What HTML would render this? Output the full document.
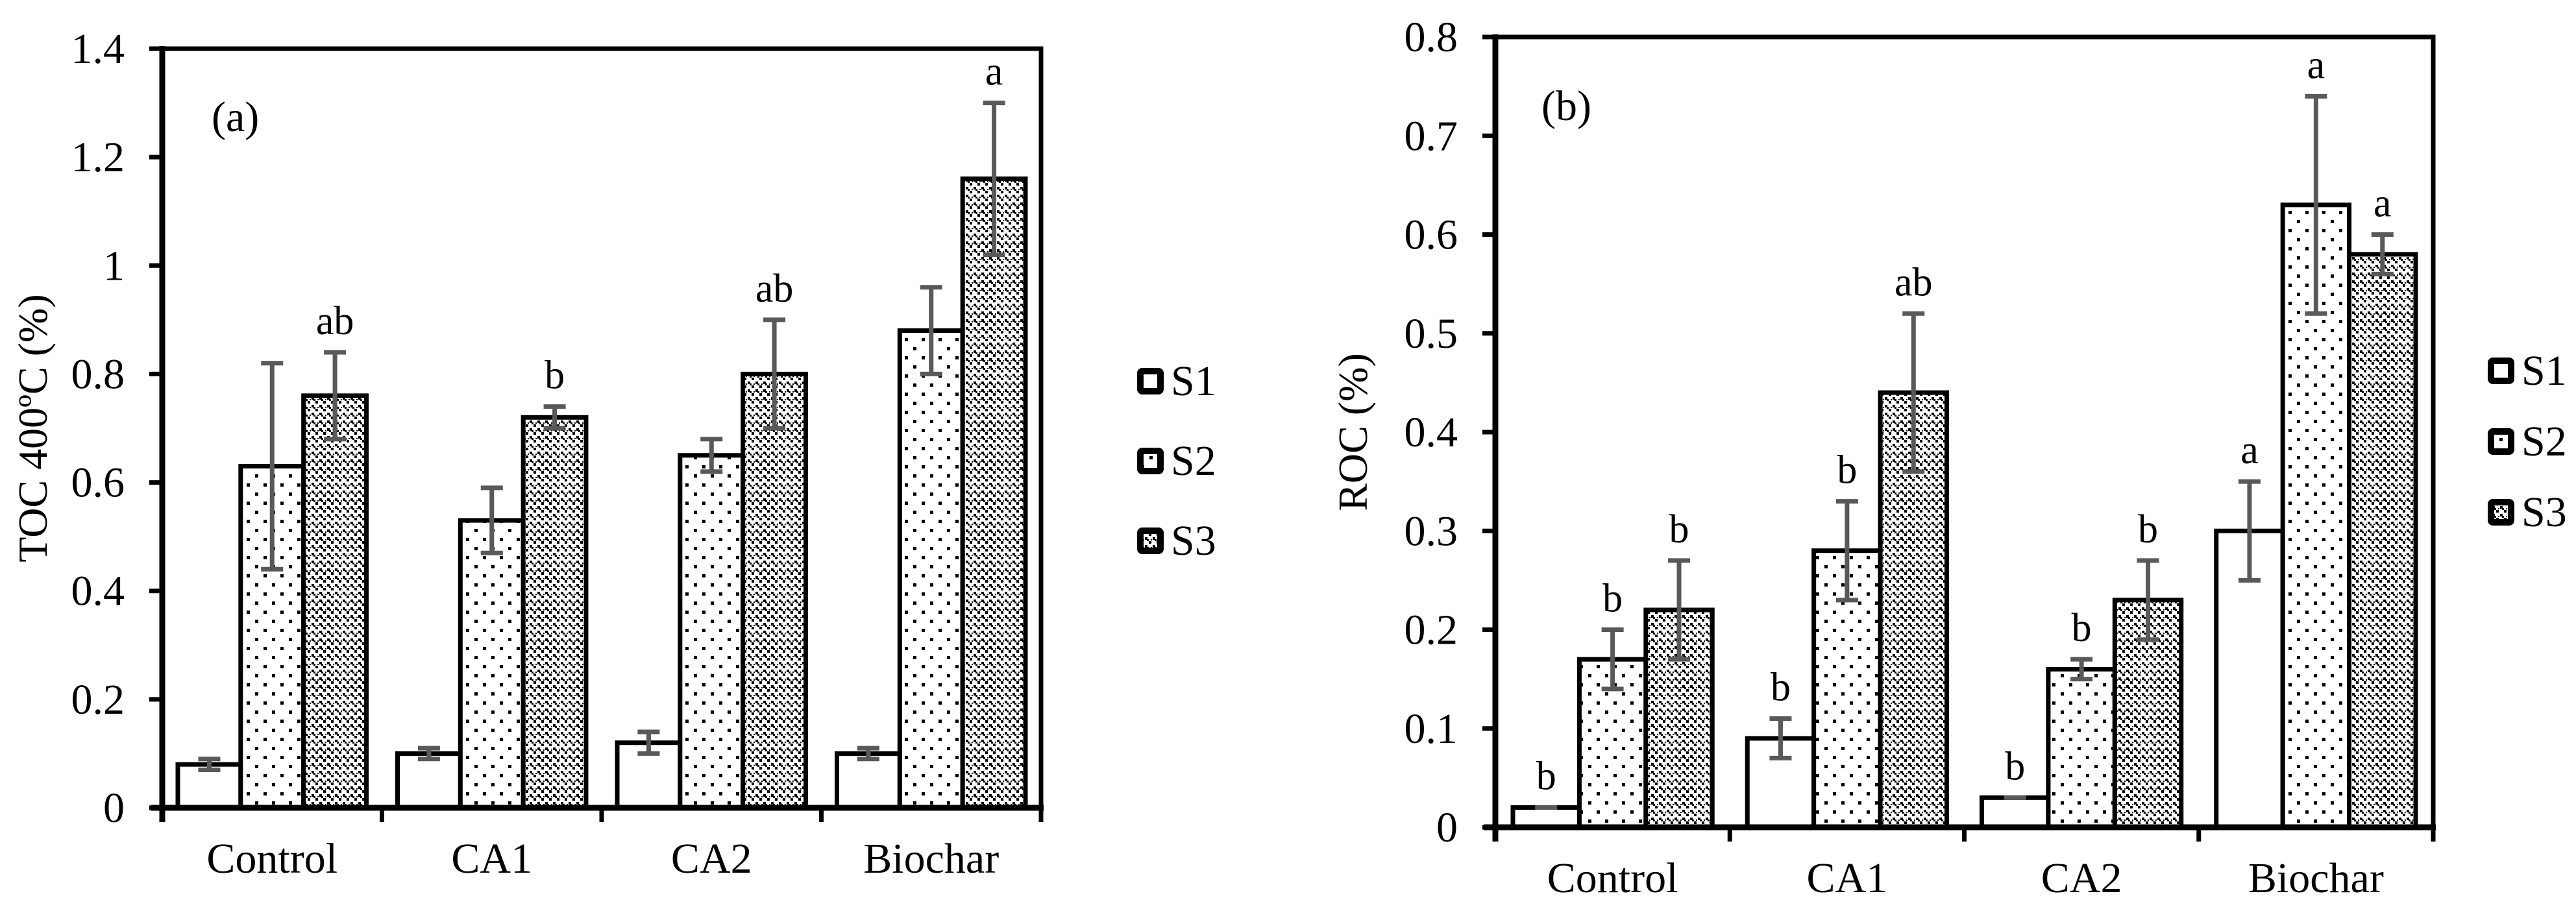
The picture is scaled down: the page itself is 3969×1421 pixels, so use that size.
<!DOCTYPE html>
<html><head><meta charset="utf-8"><style>
html,body{margin:0;padding:0;background:#fff;}
svg{display:block;font-family:"Liberation Serif","Times New Roman",serif;}
</style></head><body>
<svg id="fig" width="3969" height="1421" viewBox="0 0 3969 1421" xmlns="http://www.w3.org/2000/svg">
<defs>
<pattern id="pS2" width="26" height="28" patternUnits="userSpaceOnUse">
<rect width="26" height="28" fill="#fff"/>
<rect x="3" y="3" width="5" height="5" fill="#000"/>
<rect x="16" y="17" width="5" height="5" fill="#000"/>
</pattern>
<pattern id="pS3" width="12" height="12" patternUnits="userSpaceOnUse">
<rect width="12" height="12" fill="#fff"/>
<rect x="0" y="0" width="4" height="4" fill="#000"/>
<rect x="6" y="6" width="4" height="4" fill="#000"/>
<rect x="3" y="3" width="3" height="3" fill="#000"/>
<rect x="9" y="3" width="2" height="2" fill="#000"/>
</pattern>
</defs>
<g id="chartA"></g>
<g id="chartB"></g>
</svg>
<script>
const categories = ["Control","CA1","CA2","Biochar"];
const seriesNames = ["S1","S2","S3"];
const aS1 = [0.08,0.10,0.12,0.10];
const aS2 = [0.63,0.53,0.65,0.88];
const aS3 = [0.76,0.72,0.80,1.16];
const aE1 = [0.01,0.01,0.02,0.01];
const aE2 = [0.19,0.06,0.03,0.08];
const aE3 = [0.08,0.02,0.10,0.14];
const aL1 = ["","","",""];
const aL2 = ["","","",""];
const aL3 = ["ab","b","ab","a"];
const aTicks = ["0","0.2","0.4","0.6","0.8","1","1.2","1.4"];
const aTickVals = [0,0.2,0.4,0.6,0.8,1.0,1.2,1.4];
const bS1 = [0.02,0.09,0.03,0.30];
const bS2 = [0.17,0.28,0.16,0.63];
const bS3 = [0.22,0.44,0.23,0.58];
const bE1 = [0.0,0.02,0.0,0.05];
const bE2 = [0.03,0.05,0.01,0.11];
const bE3 = [0.05,0.08,0.04,0.02];
const bL1 = ["b","b","b","a"];
const bL2 = ["b","b","b","a"];
const bL3 = ["b","ab","b","a"];
const bTicks = ["0","0.1","0.2","0.3","0.4","0.5","0.6","0.7","0.8"];
const bTickVals = [0,0.1,0.2,0.3,0.4,0.5,0.6,0.7,0.8];

const NS="http://www.w3.org/2000/svg";
function mk(parent,tag,attrs,text){const e=document.createElementNS(NS,tag);for(const k in attrs)e.setAttribute(k,attrs[k]);if(text!==undefined)e.textContent=text;parent.appendChild(e);return e;}
const fills=["#fff","url(#pS2)","url(#pS3)"];

function draw(g,cfg){
  const {x0,x1,y0,yTop,ymax,vals,errs,lbls,ticks,tickVals,title,titleX,tag,tagX,tagY,legX,legY,legGap,barOff}=cfg;
  const ys=v=>y0-(v/ymax)*(y0-yTop);
  const cw=(x1-x0)/categories.length;
  const bw=(cw-2*barOff)/3;
  const xs=(c,s)=>x0+c*cw+barOff+s*bw;
  // frame top/right
  let e=mk(g,'path',{d:`M${x0} ${yTop} H${x1} V${y0}`,fill:'none',stroke:'#000','stroke-width':7});
  
  // bars
  for(let s=0;s<3;s++){for(let c=0;c<categories.length;c++){
    const v=vals[s][c];
    e=mk(g,'rect',{x:xs(c,s),y:ys(v),width:bw,height:y0-ys(v),fill:fills[s],stroke:'#000','stroke-width':7});
    
    
  }}
  // error bars
  for(let s=0;s<3;s++){for(let c=0;c<categories.length;c++){
    const v=vals[s][c],er=errs[s][c],cx=xs(c,s)+bw/2;
    const eg=mk(g,'g',{stroke:'#595959','stroke-width':7,fill:'none'});
    
    if(er>0){
      mk(eg,'line',{x1:cx,x2:cx,y1:ys(v+er),y2:ys(v-er)});
      mk(eg,'line',{x1:cx-17,x2:cx+17,y1:ys(v+er),y2:ys(v+er)});
      mk(eg,'line',{x1:cx-17,x2:cx+17,y1:ys(v-er),y2:ys(v-er)});
    } else {
      mk(eg,'line',{x1:cx-17,x2:cx+17,y1:ys(v),y2:ys(v)});
    }
    const L=lbls[s][c];
    if(L){e=mk(g,'text',{x:cx,y:ys(v+er)-28,'font-size':62,'text-anchor':'middle'},L);
      }
  }}
  // axes
  e=mk(g,'line',{x1:x0,x2:x0,y1:yTop-4,y2:y0+22,stroke:'#000','stroke-width':9});
  
  e=mk(g,'line',{x1:x0-18,x2:x1+4,y1:y0,y2:y0,stroke:'#000','stroke-width':9});
  
  for(let i=0;i<=categories.length;i++){mk(g,'line',{x1:x0+i*cw,x2:x0+i*cw,y1:y0,y2:y0+22,stroke:'#000','stroke-width':7});}
  for(let c=0;c<categories.length;c++){
    e=mk(g,'text',{x:x0+(c+0.5)*cw,y:y0+100,'font-size':66,'text-anchor':'middle'},categories[c]);
    
  }
  for(let i=0;i<ticks.length;i++){
    const y=ys(tickVals[i]);
    mk(g,'line',{x1:x0-20,x2:x0,y1:y,y2:y,stroke:'#000','stroke-width':7});
    e=mk(g,'text',{x:x0-58,y:y+22,'font-size':66,'text-anchor':'end'},ticks[i]);
    
  }
  const my=(y0+yTop)/2;
  e=mk(g,'text',{x:titleX,y:my,'font-size':64,'text-anchor':'middle',transform:`rotate(-90 ${titleX} ${my})`},title);
  
  e=mk(g,'text',{x:tagX,y:tagY,'font-size':66},tag);
  
  for(let s=0;s<3;s++){
    const ly=legY+s*legGap;
    const lg=mk(g,'g',{});
    
    
    mk(lg,'rect',{x:legX+5,y:ly-15,width:31,height:31,fill:fills[s],stroke:'#000','stroke-width':10,rx:3});
    mk(lg,'text',{x:legX+52,y:ly+22,'font-size':66},seriesNames[s]);
  }
}
draw(document.getElementById('chartA'),{x0:250,x1:1604,y0:1245,yTop:75,ymax:1.4,
  vals:[aS1,aS2,aS3],errs:[aE1,aE2,aE3],lbls:[aL1,aL2,aL3],ticks:aTicks,tickVals:aTickVals,
  title:"TOC 400ºC (%)",titleX:72,tag:"(a)",tagX:326,tagY:202,legX:1752,legY:587,legGap:123,barOff:24});
draw(document.getElementById('chartB'),{x0:2304,x1:3749,y0:1275,yTop:57,ymax:0.8,
  vals:[bS1,bS2,bS3],errs:[bE1,bE2,bE3],lbls:[bL1,bL2,bL3],ticks:bTicks,tickVals:bTickVals,
  title:"ROC (%)",titleX:2106,tag:"(b)",tagX:2375,tagY:185,legX:3833,legY:571,legGap:109,barOff:27});
</script>
</body></html>
